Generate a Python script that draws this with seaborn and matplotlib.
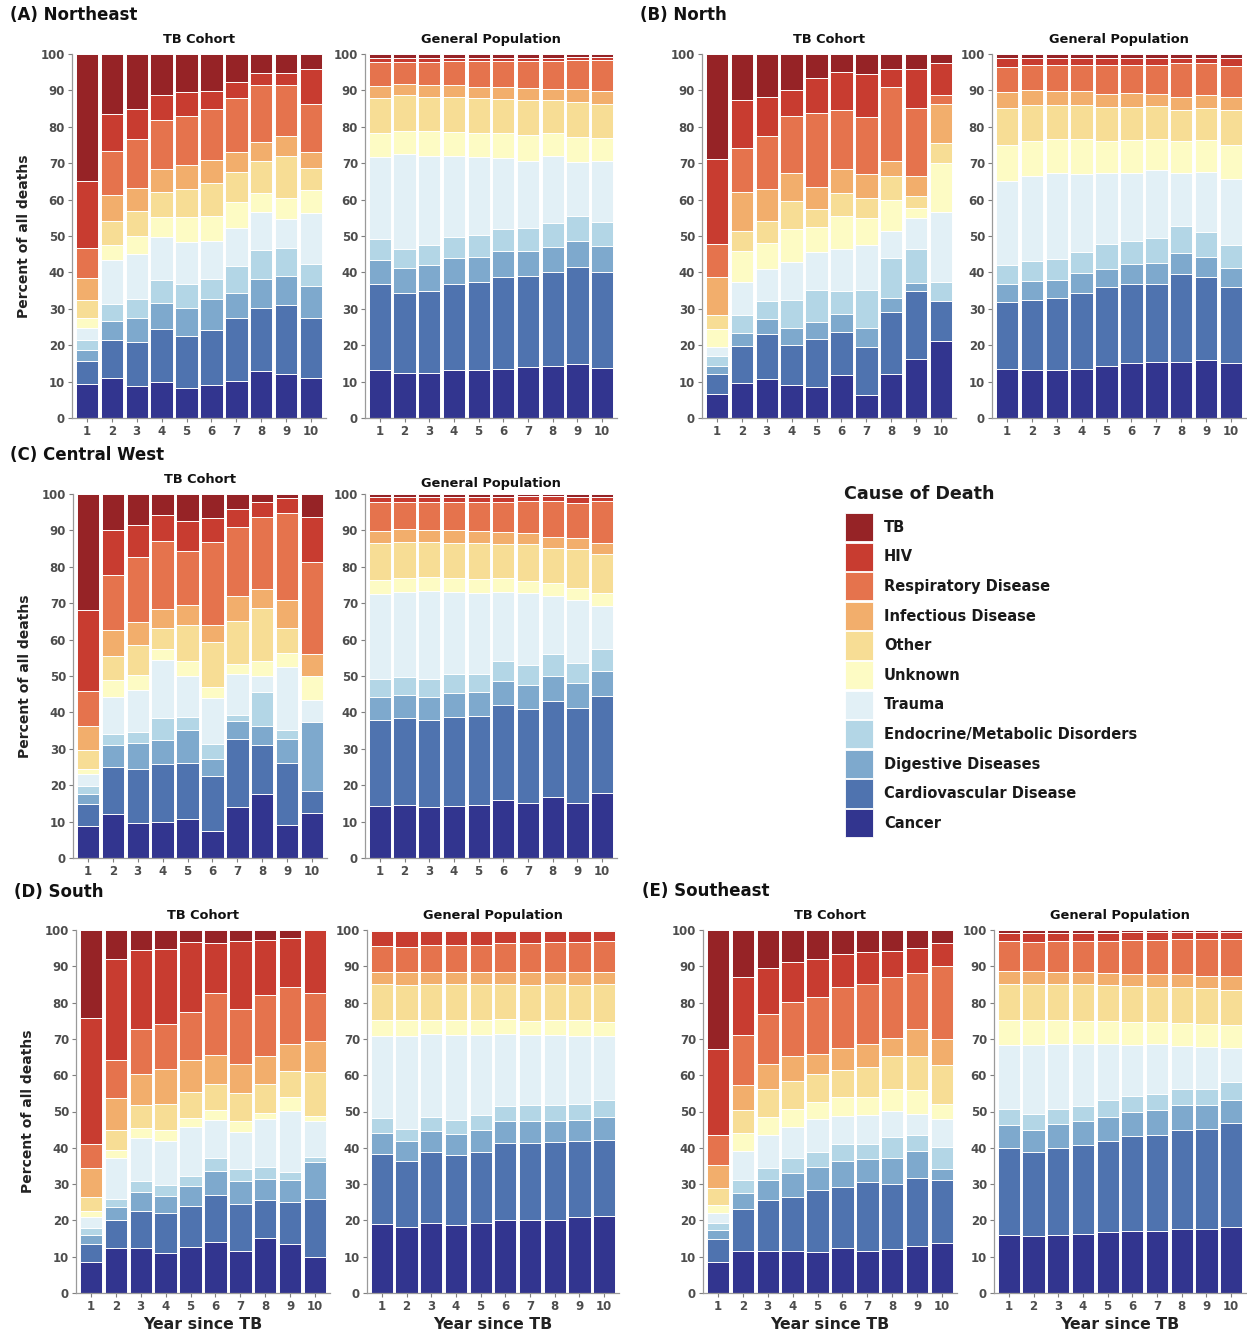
import numpy as np
import pandas as pd
import matplotlib
matplotlib.use("Agg")
import matplotlib.pyplot as plt
from matplotlib.patches import Rectangle
import seaborn as sns

# ---------------- data ----------------
CAUSES = ["Cancer", "Cardiovascular Disease", "Digestive Diseases",
          "Endocrine/Metabolic Disorders", "Trauma", "Unknown", "Other",
          "Infectious Disease", "Respiratory Disease", "HIV", "TB"]
COLORS = ["#32358f", "#4f73af", "#7ea9cd", "#b3d6e6", "#e2f0f6", "#fdfbc4",
          "#f7dd95", "#f2ae6c", "#e5734d", "#c83c30", "#962326"]
YEARS = list(range(1, 11))

# percent of all deaths per cause (order of CAUSES), one row per year since TB
NE_TB = [
    [9.3, 6.4, 3.0, 2.6, 3.5, 2.7, 4.8, 6.2, 8.3, 18.2, 35.0],
    [11.0, 10.5, 5.2, 4.7, 11.9, 4.3, 6.4, 7.3, 12.1, 10.0, 16.6],
    [8.7, 12.3, 6.6, 5.0, 12.4, 5.0, 6.8, 6.3, 13.5, 8.2, 15.2],
    [10.0, 14.4, 7.1, 6.5, 11.6, 5.7, 6.9, 6.1, 13.7, 6.6, 11.4],
    [8.3, 14.3, 7.6, 6.6, 11.6, 6.7, 7.7, 6.7, 13.5, 6.5, 10.5],
    [9.1, 15.2, 8.5, 5.5, 10.4, 6.7, 9.1, 6.5, 14.0, 4.9, 10.1],
    [10.1, 17.3, 6.9, 7.4, 10.6, 7.1, 8.3, 5.4, 14.7, 4.4, 7.8],
    [12.8, 17.3, 8.2, 7.8, 10.5, 5.2, 8.7, 5.4, 15.5, 3.5, 5.1],
    [12.1, 18.9, 7.9, 7.7, 8.0, 5.8, 11.6, 5.4, 14.0, 3.4, 5.2],
    [11.0, 16.5, 8.8, 6.1, 14.0, 6.2, 6.1, 4.5, 13.1, 9.5, 4.2],
]
NE_GP = [
    [13.2, 23.6, 6.7, 5.8, 22.5, 6.4, 9.8, 3.3, 6.5, 1.2, 1.0],
    [12.3, 22.1, 6.8, 5.3, 26.0, 6.3, 9.8, 3.2, 6.0, 1.2, 1.0],
    [12.5, 22.5, 7.0, 5.6, 24.5, 6.7, 9.5, 3.2, 6.3, 1.2, 1.0],
    [13.2, 23.7, 7.1, 5.8, 22.1, 6.6, 9.6, 3.3, 6.6, 1.0, 1.0],
    [13.3, 24.0, 6.9, 6.1, 21.3, 6.7, 9.5, 3.2, 7.0, 1.0, 1.0],
    [13.5, 25.2, 7.1, 6.2, 19.4, 6.8, 9.4, 3.3, 7.1, 1.0, 1.0],
    [14.0, 24.9, 7.1, 6.3, 18.4, 7.0, 9.7, 3.2, 7.4, 1.0, 1.0],
    [14.3, 25.7, 7.0, 6.5, 18.5, 6.2, 9.2, 3.1, 7.5, 1.0, 1.0],
    [14.9, 26.7, 7.1, 6.7, 15.0, 6.9, 9.6, 3.4, 8.0, 0.9, 0.8],
    [13.8, 26.2, 7.2, 6.6, 16.8, 6.2, 9.6, 3.5, 8.4, 0.9, 0.8],
]
N_TB = [
    [6.7, 5.5, 2.0, 2.8, 2.6, 4.9, 3.9, 10.2, 9.2, 23.3, 28.9],
    [9.6, 10.3, 3.5, 4.9, 9.0, 8.6, 5.6, 10.7, 12.1, 13.2, 12.5],
    [10.7, 12.3, 4.1, 5.1, 8.8, 7.0, 6.2, 8.6, 14.6, 10.7, 11.9],
    [9.1, 11.0, 4.7, 7.6, 10.4, 9.2, 7.6, 7.7, 15.7, 7.2, 9.8],
    [8.6, 13.0, 4.7, 9.0, 10.3, 6.8, 5.0, 6.0, 20.4, 9.7, 6.5],
    [11.7, 11.9, 4.9, 6.3, 11.6, 9.0, 6.3, 6.6, 16.4, 10.4, 4.9],
    [6.3, 13.3, 5.1, 10.6, 12.1, 7.6, 5.4, 6.7, 15.7, 11.7, 5.5],
    [12.2, 16.8, 4.0, 11.0, 7.4, 8.6, 6.4, 4.1, 20.3, 5.2, 4.0],
    [16.3, 18.7, 2.1, 9.3, 8.6, 2.8, 3.2, 5.4, 18.9, 10.5, 4.2],
    [21.1, 11.0, 0.0, 5.3, 19.1, 13.5, 5.5, 10.8, 2.5, 8.6, 2.6],
]
N_GP = [
    [13.5, 18.3, 5.0, 5.2, 23.1, 10.0, 10.2, 4.3, 6.8, 2.4, 1.2],
    [13.1, 19.4, 5.1, 5.5, 23.3, 9.7, 9.8, 4.2, 6.9, 2.0, 1.0],
    [13.1, 19.8, 5.0, 5.7, 23.6, 9.4, 9.4, 3.9, 7.2, 1.9, 1.0],
    [13.5, 20.9, 5.3, 6.0, 21.4, 9.6, 9.3, 3.9, 7.2, 1.9, 1.0],
    [14.3, 21.7, 5.0, 6.8, 19.4, 9.0, 9.2, 3.7, 8.0, 1.9, 1.0],
    [15.2, 21.5, 5.6, 6.4, 18.6, 9.0, 9.2, 3.8, 7.8, 1.9, 1.0],
    [15.3, 21.6, 5.7, 6.9, 18.6, 8.5, 9.0, 3.5, 8.0, 1.9, 1.0],
    [15.5, 24.1, 5.7, 7.4, 14.7, 8.6, 8.7, 3.6, 9.1, 1.6, 1.0],
    [15.8, 23.0, 5.5, 6.8, 16.4, 8.9, 8.7, 3.6, 8.9, 1.4, 1.0],
    [15.1, 20.9, 5.2, 6.2, 18.2, 9.4, 9.5, 3.8, 8.4, 2.3, 1.0],
]
CW_TB = [
    [8.7, 6.1, 2.7, 2.2, 3.3, 1.5, 5.3, 6.4, 9.7, 22.1, 32.0],
    [12.2, 12.8, 6.0, 3.2, 10.1, 4.7, 6.4, 7.3, 15.0, 12.4, 9.9],
    [9.6, 14.9, 7.0, 3.1, 11.6, 4.0, 8.2, 6.4, 17.9, 8.7, 8.6],
    [10.0, 15.9, 6.4, 6.2, 15.8, 3.2, 5.8, 5.1, 18.6, 7.3, 5.7],
    [10.6, 15.6, 9.0, 3.4, 11.3, 4.3, 9.8, 5.5, 14.8, 8.2, 7.5],
    [7.4, 15.2, 4.7, 3.9, 12.7, 3.1, 12.4, 4.5, 23.0, 6.4, 6.7],
    [13.9, 18.9, 4.8, 1.8, 11.2, 2.8, 11.8, 6.8, 18.9, 4.9, 4.2],
    [17.5, 13.6, 5.2, 9.4, 4.2, 4.1, 14.7, 5.3, 19.8, 4.1, 2.1],
    [9.0, 17.2, 6.6, 2.5, 17.2, 3.9, 6.7, 7.9, 23.8, 4.0, 1.2],
    [12.3, 6.2, 18.9, 0.0, 6.1, 6.5, 0.0, 6.1, 25.2, 12.5, 6.2],
]
CW_GP = [
    [14.3, 23.7, 6.3, 4.8, 23.5, 3.7, 10.3, 3.3, 8.0, 1.3, 0.8],
    [14.6, 23.8, 6.5, 4.9, 23.2, 3.9, 9.9, 3.5, 7.6, 1.3, 0.8],
    [13.9, 23.9, 6.4, 4.9, 24.2, 3.8, 9.7, 3.2, 7.9, 1.3, 0.8],
    [14.4, 24.4, 6.5, 5.2, 22.5, 3.8, 9.8, 3.4, 7.9, 1.3, 0.8],
    [14.5, 24.4, 6.6, 5.0, 22.2, 3.9, 10.0, 3.3, 8.0, 1.3, 0.8],
    [16.0, 26.0, 6.6, 5.4, 19.2, 3.6, 9.6, 3.2, 8.3, 1.3, 0.8],
    [15.0, 26.0, 6.5, 5.5, 19.8, 3.4, 10.0, 3.2, 8.8, 1.2, 0.6],
    [16.8, 26.4, 6.9, 6.0, 15.9, 3.6, 9.5, 3.1, 10.0, 1.2, 0.6],
    [15.0, 26.1, 7.0, 5.4, 17.4, 3.3, 10.8, 2.8, 9.8, 1.6, 0.8],
    [17.9, 26.7, 6.8, 5.9, 11.8, 3.7, 10.7, 3.1, 11.5, 1.2, 0.7],
]
S_TB = [
    [8.6, 4.8, 2.7, 1.7, 3.2, 1.5, 3.9, 7.9, 6.7, 34.8, 24.2],
    [12.5, 7.6, 3.7, 2.1, 11.4, 2.2, 5.4, 8.9, 10.5, 27.6, 8.1],
    [12.3, 10.2, 5.4, 2.9, 12.0, 2.7, 6.3, 8.5, 12.5, 21.6, 5.6],
    [11.0, 11.0, 4.8, 3.0, 12.1, 3.0, 7.2, 9.6, 12.4, 20.7, 5.2],
    [12.8, 11.1, 5.7, 2.7, 13.3, 2.5, 7.3, 8.8, 13.1, 19.3, 3.4],
    [14.1, 12.8, 6.7, 3.7, 10.4, 2.7, 7.2, 8.0, 17.0, 13.7, 3.7],
    [11.6, 13.0, 6.3, 3.2, 10.2, 3.0, 7.7, 8.2, 15.0, 18.7, 3.1],
    [15.1, 10.5, 5.7, 3.4, 13.3, 1.5, 8.2, 7.6, 16.9, 15.1, 2.7],
    [13.4, 11.8, 6.0, 2.2, 16.7, 3.8, 7.3, 7.4, 15.8, 13.3, 2.3],
    [10.0, 15.9, 10.2, 1.4, 10.0, 1.3, 12.0, 8.6, 13.2, 17.4, 0.0],
]
S_GP = [
    [19.0, 19.4, 5.7, 4.0, 22.8, 4.2, 9.9, 3.4, 7.2, 4.0, 0.4],
    [18.2, 18.1, 5.5, 3.5, 25.6, 4.2, 9.7, 3.6, 6.9, 4.3, 0.4],
    [19.3, 19.5, 5.8, 3.9, 22.8, 4.0, 9.7, 3.4, 7.4, 3.8, 0.4],
    [18.8, 19.1, 5.9, 3.8, 23.6, 4.1, 9.7, 3.4, 7.4, 3.8, 0.4],
    [19.3, 19.5, 6.0, 4.1, 22.3, 4.1, 9.8, 3.4, 7.5, 3.6, 0.4],
    [20.1, 21.2, 6.0, 4.2, 19.8, 4.2, 9.5, 3.4, 7.9, 3.3, 0.4],
    [20.2, 21.1, 6.0, 4.4, 19.3, 4.0, 9.9, 3.5, 7.9, 3.3, 0.4],
    [20.2, 21.3, 5.8, 4.4, 19.4, 4.2, 9.7, 3.4, 8.2, 3.0, 0.4],
    [20.8, 21.2, 5.6, 4.5, 18.8, 4.3, 9.6, 3.6, 8.4, 2.8, 0.4],
    [21.3, 20.9, 6.2, 4.9, 17.6, 3.8, 10.3, 3.4, 8.6, 2.6, 0.4],
]
SE_TB = [
    [8.6, 6.2, 2.6, 2.0, 2.6, 2.3, 4.6, 6.3, 8.4, 23.7, 32.7],
    [11.6, 11.6, 4.4, 3.4, 8.0, 5.0, 6.4, 7.0, 13.6, 16.0, 13.0],
    [11.6, 13.9, 5.5, 3.5, 8.9, 5.0, 7.8, 7.0, 13.7, 12.5, 10.6],
    [11.6, 14.8, 6.7, 4.1, 8.5, 5.1, 7.5, 6.9, 14.9, 11.2, 8.7],
    [11.3, 17.0, 6.4, 4.2, 8.9, 4.9, 7.7, 5.4, 15.8, 10.5, 7.9],
    [12.3, 16.9, 7.1, 4.7, 7.7, 5.2, 7.5, 6.0, 16.8, 9.3, 6.5],
    [11.7, 18.8, 6.3, 4.3, 7.8, 5.1, 8.2, 6.4, 16.6, 8.7, 6.1],
    [12.2, 17.8, 7.3, 5.7, 7.2, 5.9, 9.1, 5.1, 16.7, 7.3, 5.7],
    [13.0, 18.8, 7.2, 4.6, 5.7, 6.7, 9.2, 7.6, 15.4, 6.8, 5.0],
    [13.7, 17.4, 3.0, 6.2, 7.6, 4.2, 10.6, 7.3, 20.2, 6.2, 3.6],
]
SE_GP = [
    [16.1, 23.9, 6.3, 4.3, 17.8, 6.8, 10.0, 3.4, 8.4, 2.3, 0.7],
    [15.7, 23.1, 6.2, 4.2, 19.2, 6.8, 9.9, 3.5, 8.1, 2.6, 0.7],
    [16.0, 24.0, 6.5, 4.1, 18.0, 6.6, 9.9, 3.4, 8.4, 2.4, 0.7],
    [16.2, 24.5, 6.6, 4.3, 17.0, 6.4, 10.0, 3.3, 8.6, 2.4, 0.7],
    [16.8, 25.2, 6.6, 4.5, 15.5, 6.3, 9.9, 3.4, 8.8, 2.3, 0.7],
    [17.2, 26.0, 6.8, 4.3, 14.1, 6.3, 9.8, 3.4, 9.4, 2.1, 0.6],
    [17.2, 26.3, 7.0, 4.2, 13.8, 6.1, 9.8, 3.5, 9.4, 2.1, 0.6],
    [17.6, 27.3, 6.9, 4.3, 12.0, 6.2, 9.9, 3.6, 9.6, 2.0, 0.6],
    [17.7, 27.4, 6.8, 4.4, 11.6, 6.1, 10.0, 3.4, 10.2, 1.8, 0.6],
    [18.2, 28.7, 6.4, 4.8, 9.4, 6.2, 9.8, 3.7, 10.4, 1.8, 0.6],
]

REGION_LABELS = ["(A) Northeast", "(B) North", "(C) Central West", "(D) South", "(E) Southeast"]
PANEL_TITLES = ["TB Cohort", "General Population"]

# ---------------- style ----------------
sns.set_theme(style="ticks")
plt.rcParams["font.family"] = ["DejaVu Sans"]
plt.rcParams["font.weight"] = "bold"
plt.rcParams["axes.titleweight"] = "bold"
plt.rcParams["axes.labelweight"] = "bold"

W, H = 1247, 1336
fig = plt.figure(figsize=(W / 100, H / 100), dpi=100)
fig.patch.set_facecolor("white")

GREY = "#4d4d4d"


def long_frame(rows):
    recs = []
    for yr, shares in zip(YEARS, rows):
        cum = np.cumsum(shares)
        for cause, s, c in zip(CAUSES, shares, cum):
            recs.append({"year": yr, "cause": cause, "share": s, "top": c})
    return pd.DataFrame(recs)


def draw_panel(rect_px, rows, title, ylabel=False, xlabel=False, tpad=8):
    lx, ty, w, h = rect_px
    ax = fig.add_axes([lx / W, 1 - (ty + h) / H, w / W, h / H])
    df = long_frame(rows)
    # draw from the top cause down so lower segments overlay (stacked bars)
    for cause, col in zip(CAUSES[::-1], COLORS[::-1]):
        sub = df[df["cause"] == cause]
        sns.barplot(data=sub, x="year", y="top", order=YEARS, color=col,
                    saturation=1, width=0.9, edgecolor="white", linewidth=0.7,
                    errorbar=None, ax=ax)
    ax.set_xlim(-0.6, 9.6)
    ax.set_ylim(0, 100)
    ax.set_yticks(range(0, 101, 10))
    ax.set_xticks(range(10))
    ax.set_xticklabels([str(y) for y in YEARS])
    ax.tick_params(axis="both", labelsize=8.5, labelcolor=GREY, color="#7f7f7f",
                   length=3, width=0.8, pad=2)
    for sp in ["top", "right"]:
        ax.spines[sp].set_visible(False)
    for sp in ["left", "bottom"]:
        ax.spines[sp].set_color("#9a9a9a")
        ax.spines[sp].set_linewidth(0.9)
    ax.set_title(title, fontsize=9.3, fontweight="bold", pad=tpad, color="#111111")
    if ylabel:
        ax.set_ylabel("Percent of all deaths", fontsize=10, fontweight="bold",
                      color="#222222", labelpad=7)
    else:
        ax.set_ylabel("")
    if xlabel:
        ax.set_xlabel("Year since TB", fontsize=11.3, fontweight="bold",
                      color="#222222", labelpad=3)
    else:
        ax.set_xlabel("")
    return ax


panels = [
    (NE_TB, NE_GP, (72, 54, 254, 364), (365, 54, 252, 364), True, False, 8),
    (N_TB, N_GP, (702, 54, 254, 364), (992, 54, 254, 364), False, False, 8),
    (CW_TB, CW_GP, (73, 494, 254, 364), (365, 494, 252, 364), True, False, 5),
    (S_TB, S_GP, (76, 930, 254, 363), (367, 930, 252, 363), True, True, 8),
    (SE_TB, SE_GP, (703, 930, 254, 363), (994, 930, 252, 363), False, True, 8),
]
for tb_rows, gp_rows, r_tb, r_gp, yl, xl, gpad in panels:
    draw_panel(r_tb, tb_rows, PANEL_TITLES[0], ylabel=yl, xlabel=xl, tpad=8)
    draw_panel(r_gp, gp_rows, PANEL_TITLES[1], ylabel=False, xlabel=xl, tpad=gpad)

label_pos = [(10, 15), (640, 15), (10, 455), (14, 892), (642, 891)]
for lab, (x, y) in zip(REGION_LABELS, label_pos):
    fig.text(x / W, 1 - y / H, lab, fontsize=12, fontweight="bold",
             va="center", ha="left", color="#111111")

# ---------------- legend (drawn in pixel coordinates) ----------------
lax = fig.add_axes([0, 0, 1, 1], facecolor="none")
lax.set_xlim(0, W)
lax.set_ylim(H, 0)
lax.axis("off")
lax.text(844, 494, "Cause of Death", fontsize=12.6, fontweight="bold",
         color="#1a1a1a", va="center", ha="left")
for i, (cause, col) in enumerate(zip(CAUSES[::-1], COLORS[::-1])):
    top = 513 + i * 29.6
    lax.add_patch(Rectangle((845, top), 28, 28.2, facecolor=col,
                            edgecolor="white", linewidth=0.6))
    lax.text(884, top + 14.3, cause, fontsize=10.5, fontweight="bold",
             color="#1a1a1a", va="center", ha="left")

fig.savefig("out.png", dpi=100, facecolor="white")
